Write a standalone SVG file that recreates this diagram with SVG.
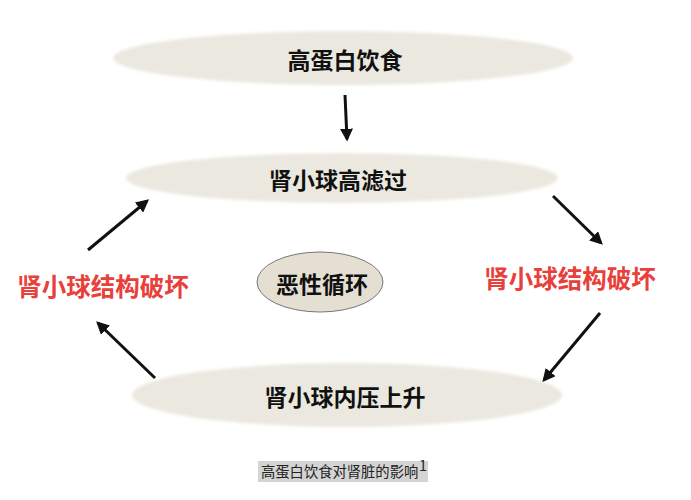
<svg xmlns="http://www.w3.org/2000/svg" width="691" height="500" viewBox="0 0 691 500">
<style>
.big{fill:#ebe9df}
.t{font-family:"Noto Sans CJK SC","Noto Sans",sans-serif;font-weight:bold;font-size:23px;fill:#111;text-anchor:middle;dominant-baseline:central}
.r{font-family:"Noto Sans CJK SC","Noto Sans",sans-serif;font-weight:bold;font-size:24.5px;fill:#e8403a;text-anchor:middle;dominant-baseline:central}
.cap{font-family:"Noto Sans CJK SC","Noto Sans",sans-serif;font-size:14.3px;fill:#222}
.a{stroke:#111;stroke-width:3;fill:none;marker-end:url(#ah)}
</style>
<defs>
<filter id="soft" x="-10%" y="-30%" width="120%" height="160%"><feGaussianBlur stdDeviation="1.5"/></filter>
<marker id="ah" viewBox="0 0 10 10" refX="8" refY="5" markerWidth="4.3" markerHeight="4.3" orient="auto" markerUnits="strokeWidth"><path d="M0,0 L10,5 L0,10 z" fill="#111"/></marker>
</defs>
<rect width="691" height="500" fill="#fff"/>
<g id="n1"><ellipse class="big" cx="343" cy="58" rx="230" ry="27" filter="url(#soft)"/><text class="t" x="345" y="59">高蛋白饮食</text></g>
<g id="n2"><ellipse class="big" cx="342" cy="178" rx="216" ry="25" filter="url(#soft)"/><text class="t" x="338" y="179">肾小球高滤过</text></g>
<g id="n3"><ellipse class="big" cx="347" cy="395" rx="215" ry="32" filter="url(#soft)"/><text class="t" x="345" y="396">肾小球内压上升</text></g>
<g id="n4"><ellipse cx="320" cy="282" rx="63" ry="30" fill="#e4dfd1" stroke="#777" stroke-width="1"/><text class="t" x="322" y="283">恶性循环</text></g>
<g id="n5"><text class="r" x="103" y="285">肾小球结构破坏</text></g>
<g id="n6"><text class="r" x="570" y="277">肾小球结构破坏</text></g>
<g id="edges">
<line class="a" x1="345" y1="95" x2="347" y2="139"/>
<line class="a" x1="553" y1="196" x2="601" y2="243"/>
<line class="a" x1="600" y1="313" x2="544" y2="380"/>
<line class="a" x1="155" y1="378" x2="98" y2="323"/>
<line class="a" x1="88" y1="250" x2="147" y2="201"/>
</g>
<g id="caption"><rect x="258" y="461" width="170" height="21" fill="#d4d4d4"/><text class="cap" x="261" y="477">高蛋白饮食对肾脏的影响</text><text class="cap" x="419" y="471" font-size="10">1</text></g>
</svg>
